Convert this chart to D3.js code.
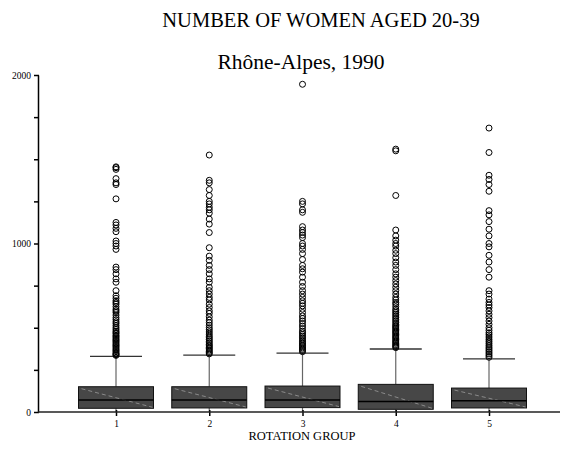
<!DOCTYPE html>
<html><head><meta charset="utf-8">
<script src="https://cdn.jsdelivr.net/npm/d3@7"></script>
<style>
html,body{margin:0;padding:0;background:#fff;}
svg{display:block;font-family:"Liberation Serif","Times New Roman",serif;}
</style></head>
<body>
<svg id="chart" width="562" height="470"></svg>
<script>
const categories = ["1","2","3","4","5"];
const q1 = [22, 24, 26, 16, 24];
const medians = [71, 71, 71, 62, 67];
const q3 = [150, 150, 154, 164, 142];
const whiskerLow = [0, 0, 0, 0, 0];
const whiskerHigh = [330, 338, 350, 374, 315];
const outliers1 = [1455,1450,1440,1385,1360,1350,1265,1125,1110,1090,1070,1015,1000,985,965,860,845,820,790,770,720,690,675,660,650,640,625,610,600,590,575,560,548,535,525,512,500,490,480,472,465,455,448,440,432,425,418,410,402,395,388,380,372,365,358,350,345,340,336];
const outliers2 = [1525,1375,1360,1320,1285,1250,1235,1215,1200,1180,1145,1115,1065,975,925,900,870,845,820,790,770,740,720,700,680,665,640,620,600,585,565,545,530,515,500,488,475,462,450,440,430,420,410,400,392,384,376,368,360,352,345];
const outliers3 = [1945,1250,1235,1200,1185,1100,1080,1065,1050,1035,1000,985,965,940,905,870,850,830,800,770,745,720,700,680,660,645,630,610,590,570,555,540,525,510,495,480,470,460,450,440,430,420,412,404,396,388,380,372,365,358];
const outliers4 = [1560,1550,1285,1080,1045,1020,1000,985,960,940,915,890,870,845,820,800,780,760,740,720,700,680,665,650,640,625,610,600,590,580,570,560,550,540,530,520,512,505,498,490,482,475,468,460,452,445,438,430,422,415,408,400,394,388,382];
const outliers5 = [1685,1540,1405,1380,1350,1310,1195,1170,1130,1085,1045,1000,980,930,890,845,800,720,700,670,650,635,620,600,580,560,540,520,500,485,470,458,445,432,420,408,396,385,375,365,355,345,335,325];
const outliers = [outliers1, outliers2, outliers3, outliers4, outliers5];
const yTicks = [0, 250, 500, 750, 1000, 1250, 1500, 1750, 2000];
const yLabels = [0, 1000, 2000];

const svg = d3.select("#chart");
const x = d3.scalePoint().domain(categories).range([116, 489]);
const y = d3.scaleLinear().domain([0, 2000]).range([412, 75]);
const boxW = 75, capW = 52;

// Y axis
const yAxis = d3.axisLeft(y).tickValues(yTicks).tickSize(4).tickSizeOuter(0)
  .tickFormat(d => yLabels.includes(d) ? d : "");
const gy = svg.append("g").attr("transform","translate(38,0)").call(yAxis);
gy.select(".domain").attr("stroke","#000").attr("stroke-width",1.5);
gy.selectAll(".tick line").attr("stroke","#000").attr("stroke-width",1.5).attr("x2",-4).attr("x1",1);
gy.selectAll(".tick text").attr("font-family","Liberation Serif").attr("font-size",9.5).attr("fill","#000").attr("x",-7);

// boxes
const groups = categories.map((c,i) => ({c, i}));
const g = svg.append("g");
groups.forEach(({c,i}) => {
  const cx = x(c);
  g.append("line").attr("x1",cx).attr("x2",cx).attr("y1",y(q3[i])).attr("y2",y(whiskerHigh[i]))
    .attr("stroke","#666").attr("stroke-width",1.2);
  g.append("line").attr("x1",cx-capW/2).attr("x2",cx+capW/2).attr("y1",y(whiskerHigh[i])).attr("y2",y(whiskerHigh[i]))
    .attr("stroke","#333").attr("stroke-width",1.3);
  g.append("line").attr("x1",cx).attr("x2",cx).attr("y1",y(q1[i])).attr("y2",y(whiskerLow[i]))
    .attr("stroke","#666").attr("stroke-width",1.2);
  g.append("rect").attr("x",cx-boxW/2).attr("width",boxW)
    .attr("y",y(q3[i])).attr("height",y(q1[i])-y(q3[i]))
    .attr("fill","#474747").attr("stroke","#111").attr("stroke-width",1);
  g.append("line").attr("x1",cx-boxW/2+3).attr("y1",y(q3[i])+2)
    .attr("x2",cx+boxW/2-1).attr("y2",y(q1[i])-1)
    .attr("stroke","#9a9a9a").attr("stroke-width",0.8).attr("stroke-dasharray","4,3");
  g.append("line").attr("x1",cx-boxW/2).attr("x2",cx+boxW/2).attr("y1",y(medians[i])).attr("y2",y(medians[i]))
    .attr("stroke","#000").attr("stroke-width",1.6);
  g.selectAll(null).data(outliers[i]).enter().append("circle")
    .attr("cx",cx).attr("cy",d=>y(d)).attr("r",3)
    .attr("fill","none").attr("stroke","#000").attr("stroke-width",1);
});

// X axis
const xAxis = d3.axisBottom(x).tickSize(4).tickSizeOuter(0);
const gx = svg.append("g").attr("transform","translate(0,412)").call(xAxis);
gx.select(".domain").remove();
gx.append("line").attr("x1",38).attr("x2",560).attr("y1",0).attr("y2",0).attr("stroke","#222").attr("stroke-width",1.5);
gx.selectAll(".tick line").attr("stroke","#000").attr("stroke-width",1.5).attr("y1",-2).attr("y2",4);
gx.selectAll(".tick text").attr("font-family","Liberation Serif").attr("font-size",9.5).attr("fill","#000").attr("y",8);

// titles
svg.append("text").attr("x",321).attr("y",27).attr("text-anchor","middle")
  .attr("font-size",20.5).text("NUMBER OF WOMEN AGED 20-39");
svg.append("text").attr("x",301).attr("y",69).attr("text-anchor","middle")
  .attr("font-size",21.5).text("Rhône-Alpes, 1990");
svg.append("text").attr("x",302).attr("y",440).attr("text-anchor","middle")
  .attr("font-size",12.5).text("ROTATION GROUP");
</script>
</body></html>
